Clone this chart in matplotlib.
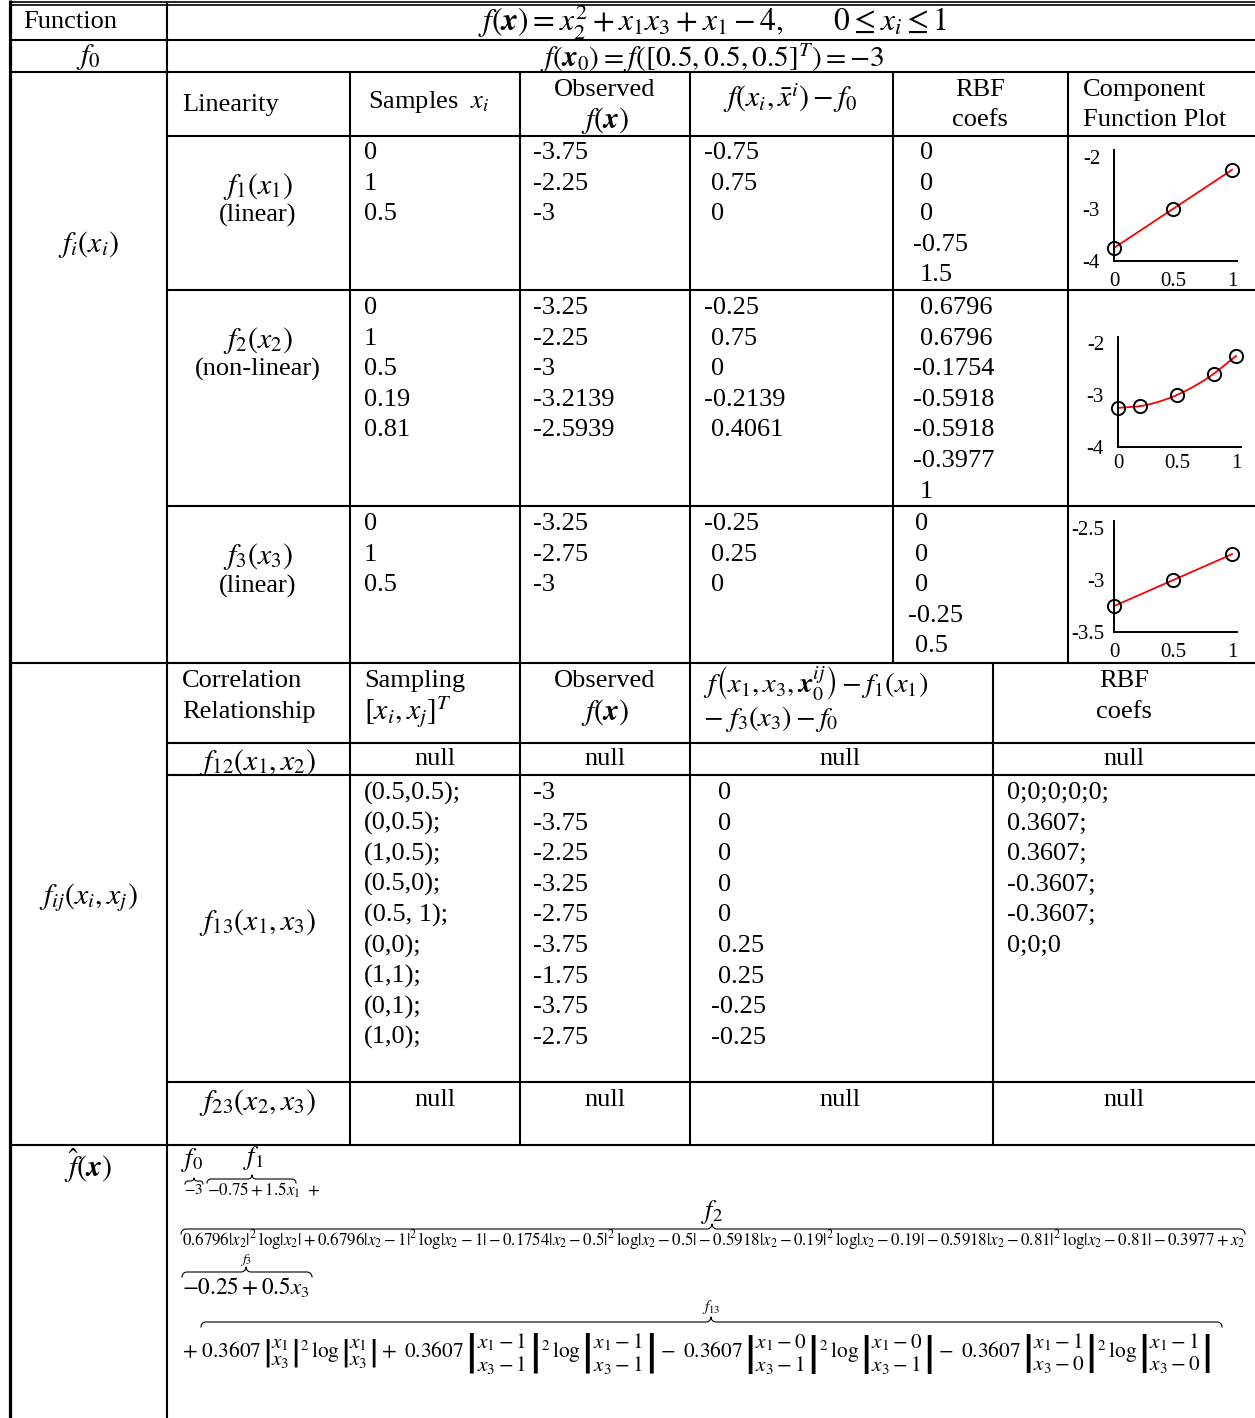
import numpy as np
import matplotlib
matplotlib.use("Agg")
import matplotlib.pyplot as plt

plt.rcParams['font.family'] = ['Liberation Serif', 'DejaVu Serif']
plt.rcParams['mathtext.fontset'] = 'stix'
plt.rcParams['axes.unicode_minus'] = False

f0 = -3.0
samples_1 = ["0", "1", "0.5"]
observed_1 = ["-3.75", "-2.25", "-3"]
diff_1 = ["-0.75", "0.75", "0"]
coefs_1 = ["0", "0", "0", "-0.75", "1.5"]

samples_2 = ["0", "1", "0.5", "0.19", "0.81"]
observed_2 = ["-3.25", "-2.25", "-3", "-3.2139", "-2.5939"]
diff_2 = ["-0.25", "0.75", "0", "-0.2139", "0.4061"]
coefs_2 = ["0.6796", "0.6796", "-0.1754", "-0.5918", "-0.5918", "-0.3977", "1"]

samples_3 = ["0", "1", "0.5"]
observed_3 = ["-3.25", "-2.75", "-3"]
diff_3 = ["-0.25", "0.25", "0"]
coefs_3 = ["0", "0", "0", "-0.25", "0.5"]

samples_13 = ["(0.5,0.5);", "(0,0.5);", "(1,0.5);", "(0.5,0);", "(0.5, 1);",
              "(0,0);", "(1,1);", "(0,1);", "(1,0);"]
observed_13 = ["-3", "-3.75", "-2.25", "-3.25", "-2.75", "-3.75", "-1.75", "-3.75", "-2.75"]
diff_13 = ["0", "0", "0", "0", "0", "0.25", "0.25", "-0.25", "-0.25"]
coefs_13 = ["0;0;0;0;0;", "0.3607;", "0.3607;", "-0.3607;", "-0.3607;", "0;0;0"]

W, H = 1255, 1418
fig = plt.figure(figsize=(W / 100, H / 100), dpi=100)
ax = fig.add_axes([0, 0, 1, 1], zorder=5)
ax.set_xlim(0, W)
ax.set_ylim(H, 0)
ax.axis('off')
ax.patch.set_alpha(0)

FS = 19     # body text
MS = 21.5   # math
LW = 1.5


def txt(x, y, s, ha='left', size=FS, **kw):
    return ax.text(x, y, s, ha=ha, va='center', fontsize=size, **kw)


def fit(x, y, s, width, ha='left', size=FS):
    t = txt(x, y, s, ha=ha, size=size)
    r = fig.canvas.get_renderer()
    bb = t.get_window_extent(r)
    t.set_fontsize(size * width / bb.width)
    return t


def column(x, y0, vals, step=30.6, neg_shift=7):
    for k, v in enumerate(vals):
        xx = x - neg_shift if v.startswith('-') else x
        txt(xx, y0 + k * step, v)


def hline(y, x0=10, x1=W, lw=LW):
    ax.plot([x0, x1], [y, y], color='k', lw=lw, solid_capstyle='butt')


def vline(x, y0, y1, lw=LW):
    ax.plot([x, x], [y0, y1], color='k', lw=lw, solid_capstyle='butt')


def brace(x0, x1, y, r=4, xm=None):
    # horizontal over-brace, ends curl down, tip points up
    if xm is None:
        xm = (x0 + x1) / 2
    t = np.linspace(0, np.pi / 2, 12)
    c, s = np.cos(t), np.sin(t)
    xs = np.concatenate([x0 + r - r * c, xm - r + r * s, xm + r - r * c, x1 - r + r * s])
    ys = np.concatenate([y + r - r * s, y - r + r * c, y - r + r * s, y + r - r * c])
    ax.plot(xs, ys, color='k', lw=0.8)


# ---- grid ----
hline(1.5, 10, W, lw=1.2)
hline(5, 10, W, lw=1.2)
hline(39.5)
hline(72)
hline(136, 167)
hline(290, 167)
hline(506, 167)
hline(663)
hline(743, 167)
hline(775, 167)
hline(1082, 167)
hline(1145)
vline(9.5, 0, H, lw=2.3)
vline(167, 3, H)
for xv in (350, 520, 690):
    vline(xv, 72, 1145)
vline(893, 72, 663)
vline(1068, 72, 663)
vline(993, 663, 1145)

# ---- top rows ----
txt(70, 22, "Function", ha='center')
fit(712, 21.5, r"$f(\boldsymbol{x}) = x_2^2 + x_1x_3 + x_1 - 4,\qquad 0 \leq x_i \leq 1$", 470, ha='center', size=MS)
txt(88, 57, r"$f_0$", ha='center', size=MS)
fit(712, 58, r"$f(\boldsymbol{x}_0) = f([0.5, 0.5, 0.5]^T) = -3$", 345, ha='center', size=MS)

# ---- first order block ----
txt(88, 245, r"$f_i(x_i)$", ha='center', size=MS)
txt(182, 105, "Linearity")
txt(368, 102, r"Samples  $x_i$")
txt(605, 90, "Observed", ha='center')
txt(605, 121, r"$f(\boldsymbol{x})$", ha='center', size=MS)
txt(790, 98, r"$f(x_i,\bar{x}^i) - f_0$", ha='center', size=MS)
txt(980, 90, "RBF", ha='center')
txt(980, 120, "coefs", ha='center')
txt(1083, 90, "Component")
txt(1083, 120, "Function Plot")

blocks = [
    (r"$f_1(x_1)$", "(linear)", 186, 153, samples_1, observed_1, diff_1, coefs_1, 920),
    (r"$f_2(x_2)$", "(non-linear)", 340, 308, samples_2, observed_2, diff_2, coefs_2, 920),
    (r"$f_3(x_3)$", "(linear)", 557, 524, samples_3, observed_3, diff_3, coefs_3, 915),
]
for lab, kind, ly, y0, s, o, d, c, cx in blocks:
    txt(258, ly, lab, ha='center', size=MS)
    txt(258, ly + 29, kind, ha='center')
    column(364, y0, s)
    column(540, y0, o)
    column(711, y0, d)
    column(cx, y0, c)


# ---- component plots ----
def rbf(xg, samples, coefs):
    xs = np.array([float(v) for v in samples])
    cs = np.array([float(v) for v in coefs])
    out = np.full_like(xg, f0) + cs[len(xs)] + cs[len(xs) + 1] * xg
    for xi, ci in zip(xs, cs[:len(xs)]):
        rr = np.abs(xg - xi)
        with np.errstate(divide='ignore', invalid='ignore'):
            term = np.where(rr > 0, rr ** 2 * np.log(rr), 0.0)
        out += ci * term
    return out


plots = [
    (samples_1, observed_1, coefs_1, (1114, 1237, 150, 261), (-4, -1.87),
     [-4, -3, -2], ["-4", "-3", "-2"], 10, 8),
    (samples_2, observed_2, coefs_2, (1118, 1241, 337, 447), (-4, -1.885),
     [-4, -3, -2], ["-4", "-3", "-2"], 10, 5),
    (samples_3, observed_3, coefs_3, (1114, 1237, 521, 632), (-3.5, -2.43),
     [-3.5, -3, -2.5], ["-3.5", "-3", "-2.5"], 7, 8),
]
for s, o, c, (x0, x1, yt, yb), yl, yt_v, yt_l, ypad, xpad in plots:
    pa = fig.add_axes([x0 / W, 1 - yb / H, (x1 - x0) / W, (yb - yt) / H], zorder=2)
    xg = np.linspace(0, 1, 200)
    pa.plot(xg, rbf(xg, s, c), color='red', lw=1.3, clip_on=False)
    pa.plot([float(v) for v in s], [float(v) for v in o], 'o', mfc='none', mec='black',
            ms=9.5, mew=1.4, clip_on=False, zorder=3)
    pa.set_xlim(0, 1.042)
    pa.set_ylim(*yl)
    pa.set_xticks([0, 0.5, 1])
    pa.set_xticklabels(["0", "0.5", "1"])
    pa.set_yticks(yt_v)
    pa.set_yticklabels(yt_l)
    pa.tick_params(length=0, labelsize=15)
    pa.tick_params(axis='x', pad=xpad)
    pa.tick_params(axis='y', pad=ypad)
    for sp in ('top', 'right'):
        pa.spines[sp].set_visible(False)
    for sp in ('left', 'bottom'):
        pa.spines[sp].set_linewidth(1.4)
    pa.patch.set_alpha(0)

# ---- second order block ----
txt(88, 898, r"$f_{ij}(x_i, x_j)$", ha='center', size=MS)
txt(182, 681, "Correlation")
txt(182, 712, "Relationship")
txt(364, 681, "Sampling")
txt(364, 712, r"$[x_i, x_j]^T$", size=MS)
txt(605, 681, "Observed", ha='center')
txt(605, 712, r"$f(\boldsymbol{x})$", ha='center', size=MS)
txt(703, 684, r"$f\left(x_1, x_3, \boldsymbol{x}_0^{ij}\right) - f_1(x_1)$", size=20.5)
txt(703, 719, r"$-\ f_3(x_3) - f_0$", size=20.5)
txt(1124, 681, "RBF", ha='center')
txt(1124, 712, "coefs", ha='center')

for lab, y in ((r"$f_{12}(x_1, x_2)$", 762), (r"$f_{23}(x_2, x_3)$", 1103)):
    txt(258, y, lab, ha='center', size=MS)
    for xc in (435, 605, 840, 1124):
        txt(xc, y - 3, "null", ha='center')

txt(258, 922, r"$f_{13}(x_1, x_3)$", ha='center', size=MS)
column(364, 793, samples_13, neg_shift=0)
column(540, 793, observed_13)
column(718, 793, diff_13)
column(1007, 793, coefs_13, neg_shift=0)

# ---- surrogate ----
txt(88, 1166, r"$\hat{f}(\boldsymbol{x})$", ha='center', size=MS)
txt(181, 1160, r"$f_0$", size=19)
txt(243, 1158, r"$f_1$", size=19)
fit(184, 1190, r"$-3$", 19, size=11)
brace(185, 203, 1181, r=3)
fit(207, 1190, r"$-0.75 + 1.5x_1\ +$", 113, size=11)
brace(207, 296, 1179, r=4, xm=252)

txt(712, 1212, r"$f_2$", ha='center', size=19)
brace(181, 1245, 1229, r=5, xm=712)
fit(182, 1240,
    r"$0.6796|x_2|^2\,\log|x_2| + 0.6796|x_2-1|^2\,\log|x_2-1| - 0.1754|x_2-0.5|^2\,\log|x_2-0.5|"
    r" - 0.5918|x_2-0.19|^2\,\log|x_2-0.19| - 0.5918|x_2-0.81|^2\,\log|x_2-0.81| - 0.3977 + x_2$",
    1061, size=10)

txt(246, 1260, r"$f_3$", ha='center', size=10)
brace(182, 312, 1272, r=5, xm=246)
fit(182, 1287, r"$-0.25 + 0.5x_3$", 128, size=14)

txt(711, 1307, r"$f_{13}$", ha='center', size=11)
brace(201, 1222, 1322, r=5, xm=711)


def absfrac(num, den):
    return r"\left|\genfrac{}{}{0}{0}{" + num + "}{" + den + r"}\right|"


pairs = [("+", "x_1", "x_3"), ("+", "x_1-1", "x_3-1"), ("-", "x_1-0", "x_3-1"), ("-", "x_1-1", "x_3-0")]
body = ""
for sign, nu, de in pairs:
    body += sign + r"\ 0.3607\," + absfrac(nu, de) + r"^2\,\log" + absfrac(nu, de) + " "
fit(182, 1353, "$" + body + "$", 1038, size=16)

fig.savefig("out.png", dpi=100)
